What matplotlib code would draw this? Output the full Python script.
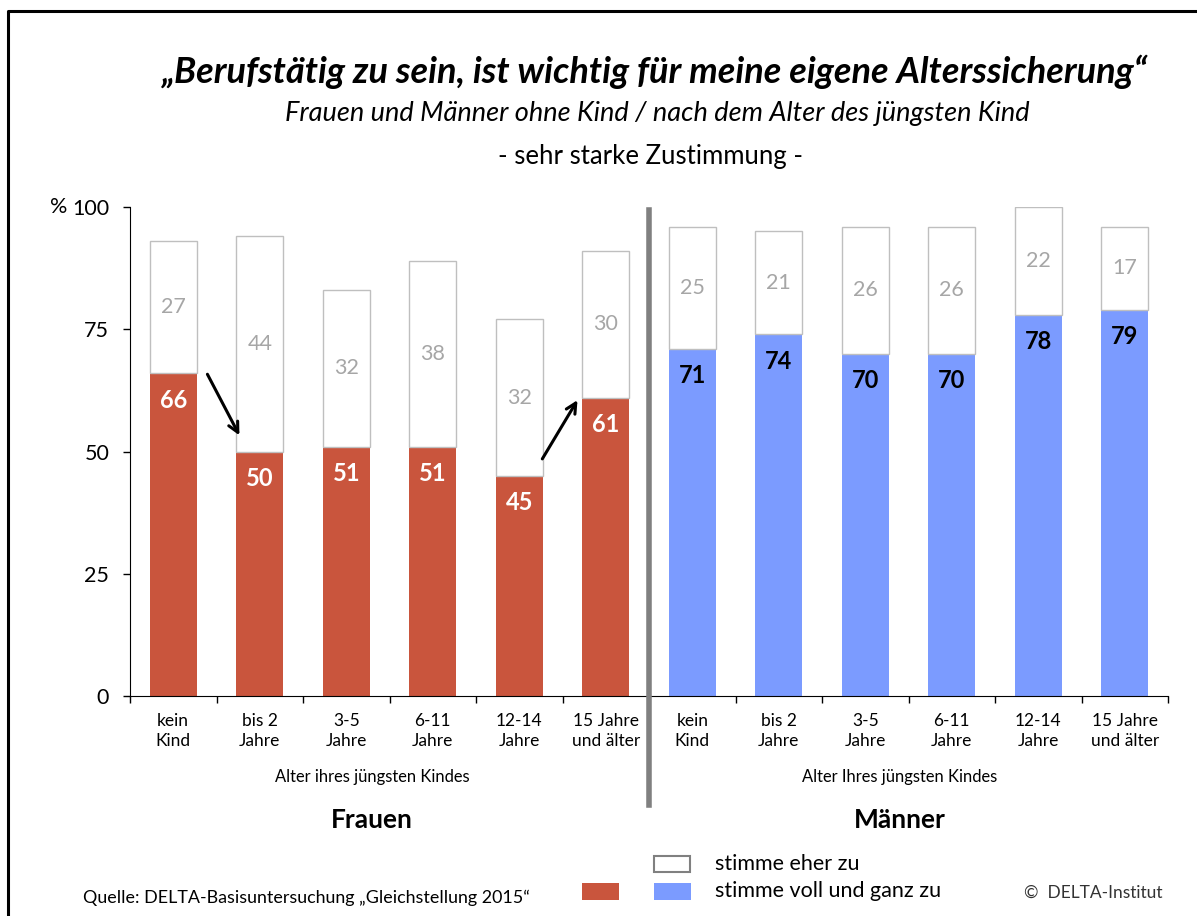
import matplotlib
matplotlib.use("Agg")
import matplotlib.pyplot as plt
from matplotlib.lines import Line2D
from matplotlib.patches import Rectangle
import numpy as np

plt.rcParams['font.family'] = ['Lato', 'DejaVu Sans']

categories = ["kein\nKind", "bis 2\nJahre", "3-5\nJahre", "6-11\nJahre", "12-14\nJahre", "15 Jahre\nund älter"]
frauen_voll = [66, 50, 51, 51, 45, 61]
frauen_eher = [27, 44, 32, 38, 32, 30]
maenner_voll = [71, 74, 70, 70, 78, 79]
maenner_eher = [25, 21, 26, 26, 22, 17]
yticks = [0, 25, 50, 75, 100]

RED = "#C9553D"
BLUE = "#7B9BFF"
EDGE = "#BFBFBF"
GREY_TXT = "#A6A6A6"

W, H = 1197, 916
fig = plt.figure(figsize=(W / 100, H / 100), dpi=100)

def fx(px):
    return px / W

def fy(py):
    return 1 - py / H

ax = fig.add_axes([fx(130), fy(696), fx(1168) - fx(130), fy(207) - fy(696)])

labels = categories + categories
voll = frauen_voll + maenner_voll
eher = frauen_eher + maenner_eher
colors = [RED] * 6 + [BLUE] * 6
x = np.arange(len(labels))
bw = 0.54

ax.bar(x, voll, width=bw, color=colors, edgecolor='none', zorder=2)
ax.bar(x, eher, width=bw, bottom=voll, color='white', edgecolor=EDGE, linewidth=1.0, zorder=2)

for i in range(len(x)):
    txtc = 'white' if i < 6 else 'black'
    ax.text(x[i], voll[i] - 5.5, str(voll[i]), ha='center', va='center',
            color=txtc, fontsize=17, fontweight='bold', zorder=3)
    ax.text(x[i], voll[i] + eher[i] / 2, str(eher[i]), ha='center', va='center',
            color=GREY_TXT, fontsize=15.5, zorder=3)

ax.set_xlim(-0.5, 11.5)
ax.set_ylim(0, 100)
ax.set_yticks(yticks)
ax.set_yticklabels([str(v) for v in yticks], fontsize=15.5)
ax.tick_params(axis='y', direction='out', length=5, width=1, colors='black', pad=10)

ax.set_xticks(np.arange(-0.5, 12, 1))
ax.set_xticklabels([])
ax.tick_params(axis='x', which='major', direction='out', length=5, width=1)
ax.set_xticks(x, minor=True)
ax.set_xticklabels(labels, minor=True, fontsize=12.5, linespacing=1.35)
ax.tick_params(axis='x', which='minor', length=0, pad=12)

for s in ['top', 'right']:
    ax.spines[s].set_visible(False)
ax.spines['left'].set_color('black')
ax.spines['bottom'].set_color('black')

# arrows
ax.annotate("", xy=(0.78, 52.8), xytext=(0.38, 66.3),
            arrowprops=dict(arrowstyle='->', lw=2.2, color='black', mutation_scale=18), zorder=4)
ax.annotate("", xy=(4.69, 61.0), xytext=(4.25, 48.0),
            arrowprops=dict(arrowstyle='->', lw=2.2, color='black', mutation_scale=18), zorder=4)

# separator
sep = Line2D([5.5, 5.5], [0.994, -0.223], transform=ax.get_xaxis_transform(),
             color='#808080', lw=4.0, clip_on=False, zorder=5)
ax.add_line(sep)

# texts
fig.text(fx(50), fy(207), "%", ha='left', va='center', fontsize=15.5)
fig.text(fx(655), fy(72), "„Berufstätig zu sein, ist wichtig für meine eigene Alterssicherung“",
         ha='center', va='center', fontsize=26, fontweight='bold', style='italic')
fig.text(fx(657), fy(113), "Frauen und Männer ohne Kind / nach dem Alter des jüngsten Kind",
         ha='center', va='center', fontsize=19.5, style='italic')
fig.text(fx(650), fy(156), "- sehr starke Zustimmung -", ha='center', va='center', fontsize=18.5)
fig.text(fx(372), fy(777), "Alter ihres jüngsten Kindes", ha='center', va='center', fontsize=11.9)
fig.text(fx(900), fy(777), "Alter Ihres jüngsten Kindes", ha='center', va='center', fontsize=11.9)
fig.text(fx(372), fy(820), "Frauen", ha='center', va='center', fontsize=19, fontweight='bold')
fig.text(fx(900), fy(820), "Männer", ha='center', va='center', fontsize=19, fontweight='bold')

# legend
fig.add_artist(Rectangle((fx(654), fy(872)), fx(690) - fx(654), fy(856) - fy(872),
                         transform=fig.transFigure, facecolor='white', edgecolor='#808080', lw=1.5))
fig.add_artist(Rectangle((fx(582), fy(900)), fx(619) - fx(582), fy(883) - fy(900),
                         transform=fig.transFigure, facecolor=RED, edgecolor='none'))
fig.add_artist(Rectangle((fx(654), fy(900)), fx(691) - fx(654), fy(883) - fy(900),
                         transform=fig.transFigure, facecolor=BLUE, edgecolor='none'))
fig.text(fx(715), fy(864), "stimme eher zu", ha='left', va='center', fontsize=15.5)
fig.text(fx(715), fy(891), "stimme voll und ganz zu", ha='left', va='center', fontsize=15.5)
fig.text(fx(83), fy(898), "Quelle: DELTA-Basisuntersuchung „Gleichstellung 2015“", ha='left', va='center', fontsize=12.9)
fig.text(fx(1162), fy(893), "©  DELTA-Institut", ha='right', va='center', fontsize=12.5, color='#333333')

# frame lines (left & top)
fig.add_artist(Line2D([fx(8), fx(8), fx(1197)], [fy(916), fy(11), fy(11)],
                      transform=fig.transFigure, color='black', lw=2.2))

fig.savefig("out.png", dpi=100)
